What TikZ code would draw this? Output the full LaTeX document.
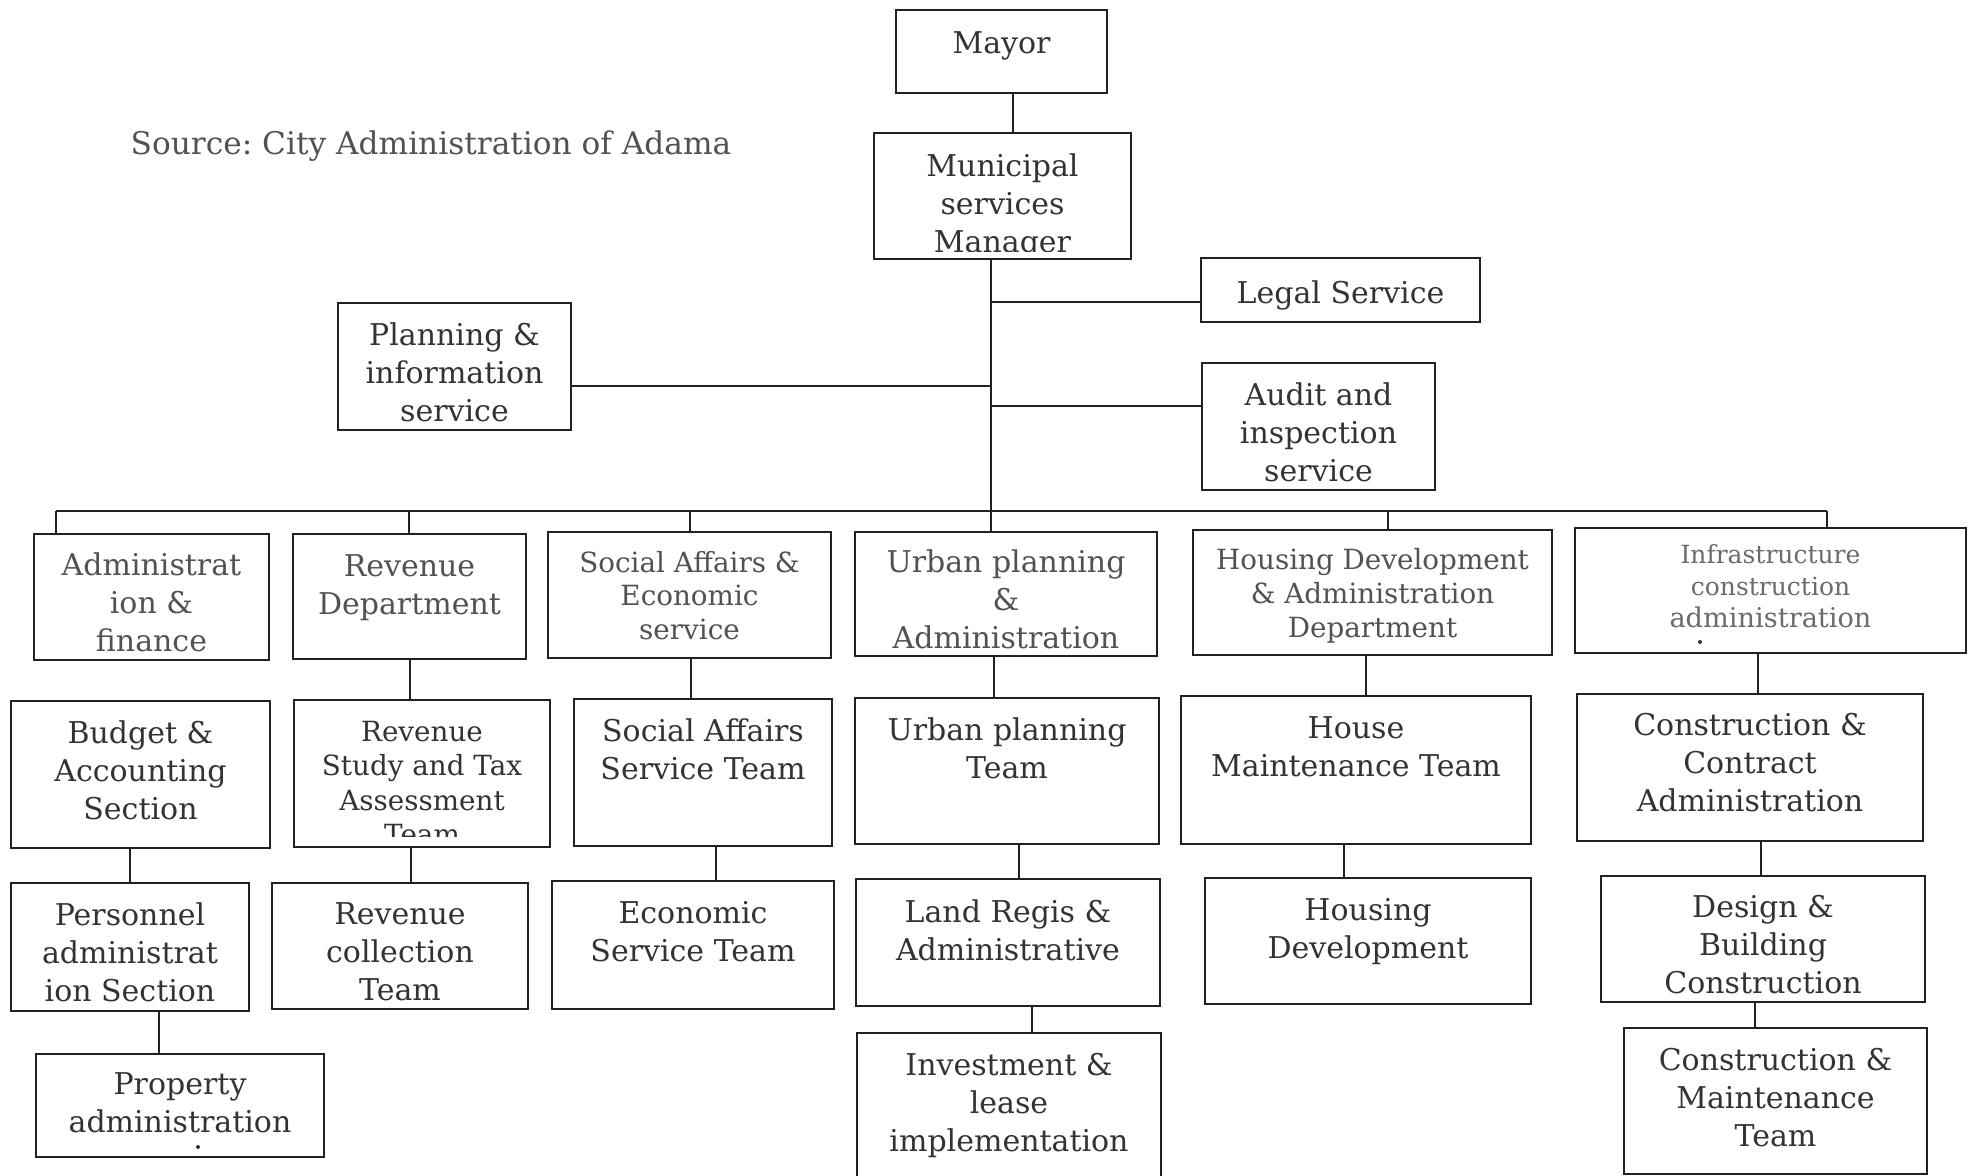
\documentclass[tikz,border=0pt]{standalone}
\usepackage{fontspec}
\setmainfont{DejaVu Serif}

\definecolor{linegray}{gray}{0.13}
\definecolor{txtdark}{gray}{0.20}
\definecolor{txtmid}{gray}{0.32}
\definecolor{txtlight}{gray}{0.42}

% one unit = one pixel of a 1970 x 1176 sheet, y grows downwards
\tikzset{
  x=0.5pt, y=-0.5pt,
  orgrect/.style={draw=linegray, line width=1.1pt, rectangle, inner sep=0pt, outer sep=0pt},
  link/.style={draw=linegray, line width=1pt},
  txt/.style={align=center, inner sep=0pt, text=txtdark, font=\frenchspacing\fontsize{15}{19}\selectfont},
  txtsmall/.style={txt, font=\frenchspacing\fontsize{13.9}{16.9}\selectfont},
  depttext/.style={text=txtmid},
}

% \orgbox{name}{x1}{y1}{x2}{y2}: an empty framed box with the given corners
\newcommand\orgbox[5]{%
  \node[orgrect, minimum width={(#4-#2)*0.5pt}, minimum height={(#5-#3)*0.5pt}]
    (#1) at ({(#2+#4)/2},{(#3+#5)/2}) {};}

\begin{document}
\begin{tikzpicture}
\useasboundingbox (0,0) rectangle (1970,1176);
\clip (0,0) rectangle (1970,1176);
\fill[white] (0,0) rectangle (1970,1176);

\node[txt, text=txtmid, font=\frenchspacing\fontsize{15.6}{19}\selectfont] (source) at (431,146)
  {Source: City Administration of Adama};

% ---------- top management ----------
\orgbox{mayor}{896}{10}{1107}{93}
\orgbox{manager}{874}{133}{1131}{259}
\orgbox{planning}{338}{303}{571}{430}
\orgbox{legal}{1201}{258}{1480}{322}
\orgbox{audit}{1202}{363}{1435}{490}

\node[txt] (mayor-t) at (mayor.center |- 0,45.5) {Mayor};
\begin{scope}
  \clip (manager.north west) rectangle ([yshift=3.5pt]manager.south east);
  \node[txt] (manager-t) at (manager.center |- 0,206) {Municipal\\services\\Manager};
\end{scope}
\node[txt] (planning-t) at (planning.center |- 0,372) {Planning \&\\information\\service};
\node[txt] (legal-t) at (legal.center |- 0,295) {Legal Service};
\node[txt] (audit-t) at (audit.center |- 0,432.5) {Audit and\\inspection\\service};

% ---------- departments ----------
\orgbox{admfin}{34}{534}{269}{660}
\orgbox{revdept}{293}{534}{526}{659}
\orgbox{socecon}{548}{532}{831}{658}
\orgbox{urbadm}{855}{532}{1157}{656}
\orgbox{housdept}{1193}{530}{1552}{655}
\orgbox{infra}{1575}{528}{1966}{653}

\node[txt, depttext] (admfin-t) at (admfin.center |- 0,602.5) {Administrat\\ion \&\\finance};
\node[txt, depttext] (revdept-t) at (revdept.center |- 0,588) {Revenue\\Department};
\node[txtsmall, depttext] (socecon-t) at (socecon.center |- 0,595.5) {Social Affairs \&\\Economic\\service};
\node[txt, depttext] (urbadm-t) at (urbadm.center |- 0,599.5) {Urban planning\\\&\\Administration};
\node[txtsmall, depttext] (housdept-t) at (housdept.center |- 0,596) {Housing Development\\\& Administration\\Department};
\node[txt, text=txtlight, font=\fontsize{12.5}{16}\selectfont] (infra-t) at (infra.center |- 0,586)
  {Infrastructure\\construction\\\fontsize{13.6}{16}\selectfont administration};
\fill[txtdark] (1700,642) circle (1pt);

% ---------- sections and teams ----------
\orgbox{budget}{11}{701}{270}{848}
\orgbox{revstudy}{294}{700}{550}{847}
\orgbox{socteam}{574}{699}{832}{846}
\orgbox{urbteam}{855}{698}{1159}{844}
\orgbox{housmaint}{1181}{696}{1531}{844}
\orgbox{constcontr}{1577}{694}{1923}{841}

\node[txt] (budget-t) at (budget.center |- 0,770.5) {Budget \&\\Accounting\\Section};
\begin{scope}
  \clip (revstudy.north west) rectangle ([yshift=5.5pt]revstudy.south east);
  \node[txtsmall, font=\frenchspacing\fontsize{13.9}{17.25}\selectfont] (revstudy-t)
    at (revstudy.center |- 0,783) {Revenue\\Study and Tax\\Assessment\\Team};
\end{scope}
\node[txt] (socteam-t) at (socteam.center |- 0,749.5) {Social Affairs\\Service Team};
\node[txt] (urbteam-t) at (urbteam.center |- 0,748.5) {Urban planning\\Team};
\node[txt] (housmaint-t) at (housmaint.center |- 0,747) {House\\Maintenance Team};
\node[txt] (constcontr-t) at (constcontr.center |- 0,762.5) {Construction \&\\Contract\\Administration};

\orgbox{personnel}{11}{883}{249}{1011}
\orgbox{revcoll}{272}{883}{528}{1009}
\orgbox{econ}{552}{881}{834}{1009}
\orgbox{landreg}{856}{879}{1160}{1006}
\orgbox{housdev}{1205}{878}{1531}{1004}
\orgbox{design}{1601}{876}{1925}{1002}

\node[txt] (personnel-t) at (personnel.center |- 0,952.5) {Personnel\\administrat\\ion Section};
\node[txt] (revcoll-t) at (revcoll.center |- 0,952) {Revenue\\collection\\Team};
\node[txt] (econ-t) at (econ.center |- 0,932) {Economic\\Service Team};
\node[txt] (landreg-t) at (landreg.center |- 0,930.5) {Land Regis \&\\Administrative};
\node[txt] (housdev-t) at (housdev.center |- 0,932) {Housing\\Development};
\node[txt] (design-t) at (design.center |- 0,944.5) {Design \&\\Building\\Construction};

\orgbox{property}{36}{1054}{324}{1157}
\orgbox{invest}{857}{1033}{1161}{1190}
\orgbox{constmaint}{1624}{1028}{1927}{1174}

\node[txt] (property-t) at (property.center |- 0,1103) {Property\\administration};
\fill[txtdark] (198,1147) circle (1pt);
\node[txt] (invest-t) at (invest.center |- 0,1105) {Investment \&\\lease\\implementation};
\node[txt] (constmaint-t) at (constmaint.center |- 0,1098) {Construction \&\\Maintenance\\Team};

% ---------- connectors ----------
\draw[link] (mayor.south -| 1013,0) -- (manager.north -| 1013,0);
\coordinate (trunk) at (manager.south -| 991,0);
\draw[link] (trunk) -- (trunk |- urbadm.north);
\draw[link] (planning.east |- 0,386) -- (trunk |- 0,386);
\draw[link] (trunk |- 0,302) -- (legal.west |- 0,302);
\draw[link] (trunk |- 0,406) -- (audit.west |- 0,406);

\coordinate (busL) at (56,511);
\coordinate (busR) at (1827,511);
\coordinate (tapB) at (409,511);
\coordinate (tapC) at (690,511);
\coordinate (tapE) at (1388,511);
\draw[link] (busL) -- (busR);
\draw[link] (busL) -- (busL |- admfin.north);
\draw[link] (tapB) -- (tapB |- revdept.north);
\draw[link] (tapC) -- (tapC |- socecon.north);
\draw[link] (tapE) -- (tapE |- housdept.north);
\draw[link] (busR) -- (busR |- infra.north);

\draw[link] (revdept.south -| 410,0) -- (revstudy.north -| 410,0);
\draw[link] (socecon.south -| 691,0) -- (socteam.north -| 691,0);
\draw[link] (urbadm.south -| 994,0) -- (urbteam.north -| 994,0);
\draw[link] (housdept.south -| 1366,0) -- (housmaint.north -| 1366,0);
\draw[link] (infra.south -| 1758,0) -- (constcontr.north -| 1758,0);

\draw[link] (budget.south -| 130,0) -- (personnel.north -| 130,0);
\draw[link] (revstudy.south -| 411,0) -- (revcoll.north -| 411,0);
\draw[link] (socteam.south -| 716,0) -- (econ.north -| 716,0);
\draw[link] (urbteam.south -| 1019,0) -- (landreg.north -| 1019,0);
\draw[link] (housmaint.south -| 1344,0) -- (housdev.north -| 1344,0);
\draw[link] (constcontr.south -| 1761,0) -- (design.north -| 1761,0);

\draw[link] (personnel.south -| 159,0) -- (property.north -| 159,0);
\draw[link] (landreg.south -| 1032,0) -- (invest.north -| 1032,0);
\draw[link] (design.south -| 1755,0) -- (constmaint.north -| 1755,0);
\end{tikzpicture}
\end{document}
